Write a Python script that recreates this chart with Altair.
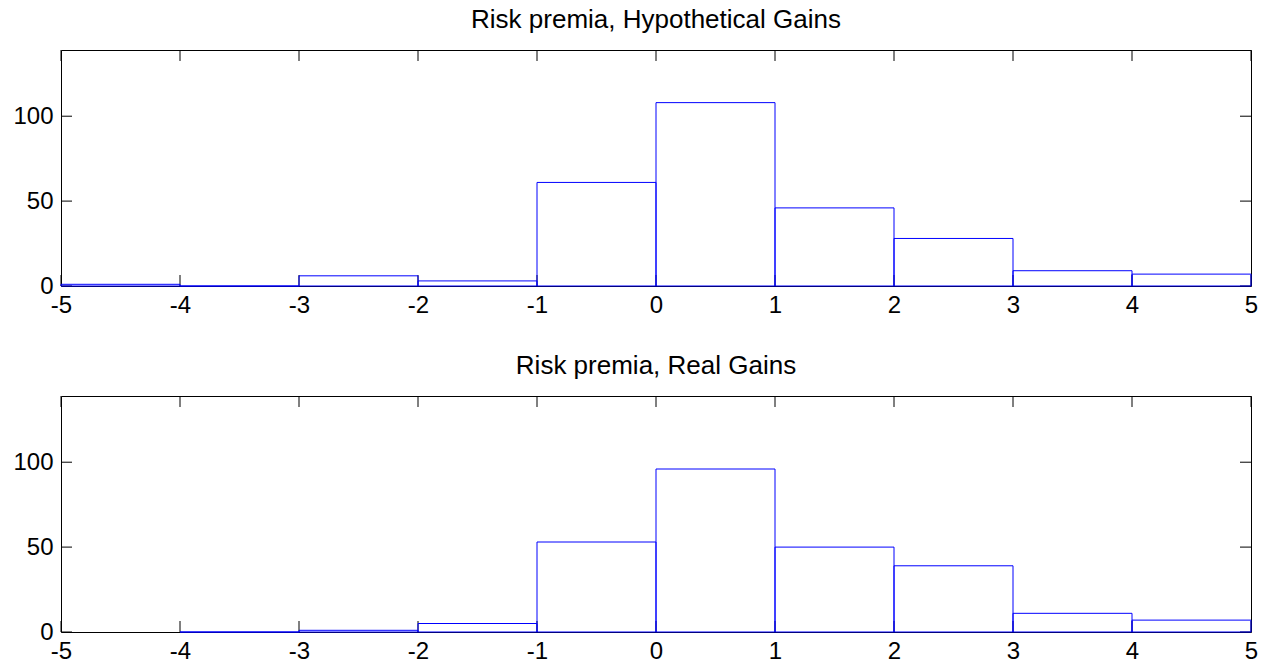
import altair as alt
import pandas as pd

# Histogram bins (edges) and counts
top_start = [-5, -4, -3, -2, -1, 0, 1, 2, 3, 4]
top_end = [-4, -3, -2, -1, 0, 1, 2, 3, 4, 5]
top_count = [1, 0, 6, 3, 61, 108, 46, 28, 9, 7]

bot_start = [-4, -3, -2, -1, 0, 1, 2, 3, 4]
bot_end = [-3, -2, -1, 0, 1, 2, 3, 4, 5]
bot_count = [0, 1, 5, 53, 96, 50, 39, 11, 7]

x_ticks = [-5, -4, -3, -2, -1, 0, 1, 2, 3, 4, 5]
y_ticks = [0, 50, 100]

W, H = 1190, 236
TL = 11
FONT = "Liberation Sans"

xscale = alt.Scale(domain=[-5, 5], nice=False, zero=False)
yscale = alt.Scale(domain=[0, 139], nice=False)

xaxis = alt.Axis(values=x_ticks, ticks=False, domain=False, grid=False,
                 labelFontSize=24, labelFont=FONT, labelColor="black",
                 labelPadding=7, title=None, labelFlush=False,
                 labelExpr="'' + datum.value")
yaxis = alt.Axis(values=y_ticks, ticks=False, domain=False, grid=False,
                 labelFontSize=24, labelFont=FONT, labelColor="black",
                 labelPadding=8, title=None, labelExpr="'' + datum.value")


def panel(starts, ends, counts, title):
    df = pd.DataFrame({"start": starts, "end": ends, "count": counts})
    bars = alt.Chart(df).mark_rect(fill="white", fillOpacity=0, stroke="#0000ff",
                                   strokeWidth=1).encode(
        x=alt.X("start:Q", scale=xscale, axis=xaxis),
        x2="end:Q",
        y=alt.Y("count:Q", scale=yscale, axis=yaxis),
        y2=alt.datum(0),
    )
    xt = pd.DataFrame({"t": x_ticks})
    yt = pd.DataFrame({"t": y_ticks})
    xb = alt.Chart(xt).mark_rule(color="black", strokeWidth=1).encode(
        x=alt.X("t:Q", scale=xscale, axis=xaxis), y=alt.value(H), y2=alt.value(H - TL))
    xtp = alt.Chart(xt).mark_rule(color="black", strokeWidth=1).encode(
        x=alt.X("t:Q", scale=xscale, axis=xaxis), y=alt.value(0), y2=alt.value(TL))
    yl = alt.Chart(yt).mark_rule(color="black", strokeWidth=1).encode(
        y=alt.Y("t:Q", scale=yscale, axis=yaxis), x=alt.value(0), x2=alt.value(TL))
    yr = alt.Chart(yt).mark_rule(color="black", strokeWidth=1).encode(
        y=alt.Y("t:Q", scale=yscale, axis=yaxis), x=alt.value(W - TL), x2=alt.value(W))
    return alt.layer(xb, xtp, yl, yr, bars).properties(
        width=W, height=H,
        title=alt.TitleParams(title, fontSize=26, font=FONT, fontWeight="normal",
                              color="black", anchor="middle", offset=17),
    )


chart = alt.vconcat(
    panel(top_start, top_end, top_count, "Risk premia, Hypothetical Gains"),
    panel(bot_start, bot_end, bot_count, "Risk premia, Real Gains"),
    spacing=110, bounds="flush",
).properties(
    padding={"left": 12, "top": 6, "right": 7, "bottom": 0},
    background="white",
).configure_view(stroke="black", strokeWidth=1)

chart.save("out.html", embed_options={"renderer": "svg", "actions": False})
